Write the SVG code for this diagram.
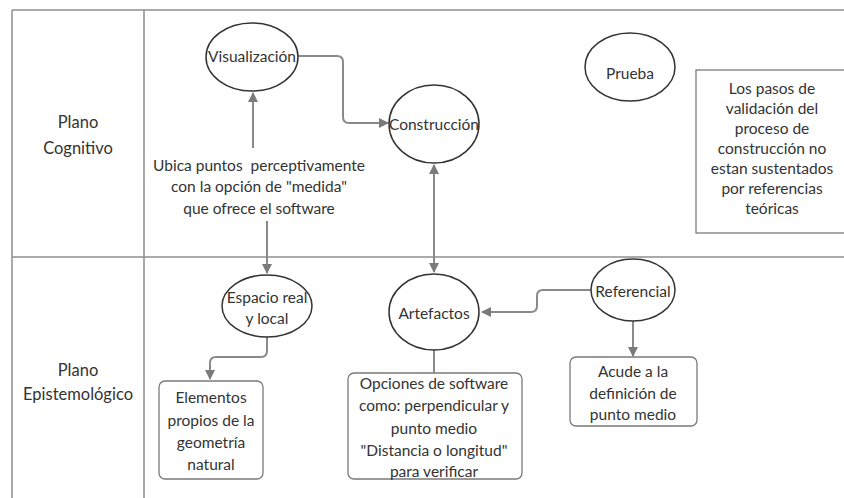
<svg xmlns="http://www.w3.org/2000/svg" width="844" height="498" viewBox="0 0 844 498">
  <style>
    .frame { fill: none; stroke: #8f8f8f; stroke-width: 1.5; }
    .node { fill: #ffffff; stroke: #333333; stroke-width: 1.5; }
    .box { fill: #ffffff; stroke: #7a7a7a; stroke-width: 1.3; }
    .conn { fill: none; stroke: #8a8a8a; stroke-width: 2; }
    text { font-family: Lato, "Liberation Sans", sans-serif; font-size: 15.5px; fill: #333333; text-anchor: middle; white-space: pre; }
    .lane { font-size: 16.5px; }
  </style>
  <defs>
    <marker id="arrow" viewBox="0 0 10 10" refX="9" refY="5" markerWidth="5" markerHeight="5" orient="auto-start-reverse">
      <path d="M0,0 L10,5 L0,10 z" fill="#7a7a7a"/>
    </marker>
  </defs>

  <rect width="844" height="498" fill="#ffffff"/>

  <!-- swimlane frame -->
  <g id="frame">
    <path class="frame" d="M12,10 H850 M12,10 V500 M144,10 V500 M12,257 H850"/>
    <text class="lane" x="78" y="128">Plano</text>
    <text class="lane" x="78" y="154">Cognitivo</text>
    <text class="lane" x="78" y="376">Plano</text>
    <text class="lane" x="78" y="400">Epistemológico</text>
  </g>

  <!-- connectors -->
  <g id="connectors">
    <path class="conn" d="M298,56 H337 Q343,56 343,62 V117 Q343,123 349,123 H388" marker-end="url(#arrow)"/>
    <path class="conn" d="M434,165 V272" marker-start="url(#arrow)" marker-end="url(#arrow)"/>
    <path class="conn" d="M253,148 V93" marker-end="url(#arrow)"/>
    <path class="conn" d="M267,221 V273" marker-end="url(#arrow)"/>
    <path class="conn" d="M267,337 V351 Q267,357 261,357 H216 Q210,357 210,363 V379" marker-end="url(#arrow)"/>
    <path class="conn" d="M434,350 V373"/>
    <path class="conn" d="M591,290 H543 Q537,290 537,296 V306 Q537,312 531,312 H482" marker-end="url(#arrow)"/>
    <path class="conn" d="M633,321 V356" marker-end="url(#arrow)"/>
  </g>

  <g id="visualizacion">
    <ellipse class="node" cx="252" cy="57" rx="46" ry="34"/>
    <text x="252" y="62">Visualización</text>
  </g>

  <g id="construccion">
    <ellipse class="node" cx="434" cy="124" rx="45" ry="39"/>
    <text x="434" y="130">Construcción</text>
  </g>

  <g id="prueba">
    <ellipse class="node" cx="630" cy="67" rx="45" ry="34"/>
    <text x="630" y="79">Prueba</text>
  </g>

  <g id="nota-validacion">
    <rect class="box" x="696" y="70" width="150" height="163"/>
    <text x="772" y="94">Los pasos de</text>
    <text x="772" y="114">validación del</text>
    <text x="772" y="134">proceso de</text>
    <text x="772" y="154">construcción no</text>
    <text x="772" y="174">estan sustentados</text>
    <text x="772" y="194">por referencias</text>
    <text x="772" y="214">teóricas</text>
  </g>

  <g id="ubica-puntos">
    <text x="259" y="171">Ubica puntos  perceptivamente</text>
    <text x="259" y="192">con la opción de "medida"</text>
    <text x="259" y="214">que ofrece el software</text>
  </g>

  <g id="espacio">
    <ellipse class="node" cx="267" cy="306" rx="45" ry="31"/>
    <text x="267" y="303">Espacio real</text>
    <text x="267" y="324">y local</text>
  </g>

  <g id="elementos">
    <rect class="box" x="159" y="381" width="104" height="98" rx="6"/>
    <text x="211" y="403">Elementos</text>
    <text x="211" y="426">propios de la</text>
    <text x="211" y="448">geometría</text>
    <text x="211" y="470">natural</text>
  </g>

  <g id="artefactos">
    <ellipse class="node" cx="434" cy="312" rx="45" ry="38"/>
    <text x="434" y="319">Artefactos</text>
  </g>

  <g id="opciones">
    <rect class="box" x="348" y="373" width="174" height="106" rx="6"/>
    <text x="434" y="389">Opciones de software</text>
    <text x="434" y="411">como: perpendicular y</text>
    <text x="434" y="434">punto medio</text>
    <text x="434" y="456">"Distancia o longitud"</text>
    <text x="434" y="477">para verificar</text>
  </g>

  <g id="referencial">
    <ellipse class="node" cx="633" cy="290" rx="42" ry="31"/>
    <text x="633" y="297">Referencial</text>
  </g>

  <g id="acude">
    <rect class="box" x="570" y="357" width="127" height="69" rx="6"/>
    <text x="633" y="377">Acude a la</text>
    <text x="633" y="399">definición de</text>
    <text x="633" y="420">punto medio</text>
  </g>
</svg>
